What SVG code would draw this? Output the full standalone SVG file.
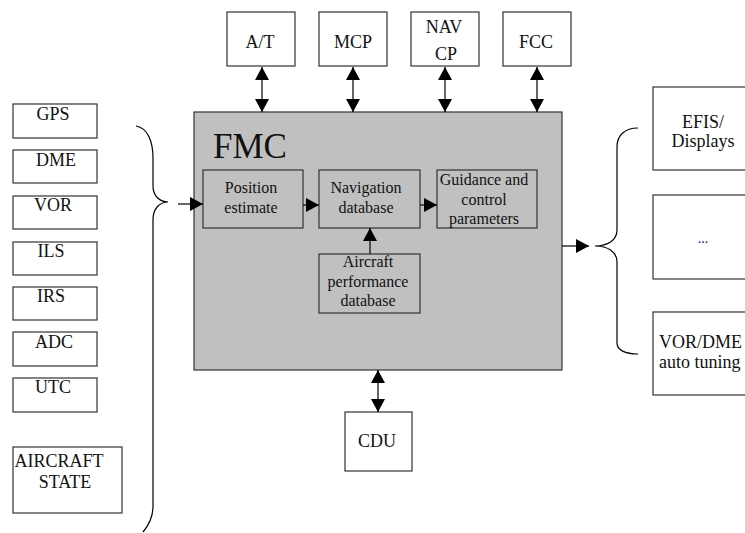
<svg xmlns="http://www.w3.org/2000/svg" width="745" height="533" viewBox="0 0 745 533">
<defs>
<marker id="arr" markerUnits="userSpaceOnUse" markerWidth="13" markerHeight="14" refX="13" refY="7" orient="auto-start-reverse" viewBox="0 0 13 14">
<path d="M0,0 L13,7 L0,14 z" fill="#000"/>
</marker>
<style>
.box{fill:#fff;stroke:#333;stroke-width:1.2}
.inner{fill:#c0c0c0;stroke:#333;stroke-width:1.2}
.fmc{fill:#c0c0c0;stroke:#333;stroke-width:1.2}
text{font-family:"Liberation Serif","Times New Roman",serif;fill:#111}
.t{font-family:"Liberation Serif","Times New Roman",serif;font-size:18px;text-anchor:middle}
.s{font-family:"Liberation Serif","Times New Roman",serif;font-size:16px;text-anchor:middle}
.c{stroke:#000;stroke-width:1.2;fill:none}
.a{marker-end:url(#arr)}
.d{marker-start:url(#arr);marker-end:url(#arr)}
</style>
</defs>
<g id="gps"><rect class="box" x="13" y="104" width="84" height="34"/><text class="t" x="53" y="120">GPS</text></g>
<g id="dme"><rect class="box" x="13" y="150" width="84" height="33"/><text class="t" x="56" y="166">DME</text></g>
<g id="vor"><rect class="box" x="13" y="196" width="84" height="33"/><text class="t" x="53" y="211">VOR</text></g>
<g id="ils"><rect class="box" x="13" y="242" width="84" height="33"/><text class="t" x="51" y="257">ILS</text></g>
<g id="irs"><rect class="box" x="13" y="287" width="84" height="33"/><text class="t" x="51" y="302">IRS</text></g>
<g id="adc"><rect class="box" x="13" y="332" width="84" height="34"/><text class="t" x="54" y="348">ADC</text></g>
<g id="utc"><rect class="box" x="13" y="378" width="84" height="34"/><text class="t" x="53" y="393">UTC</text></g>
<g id="aircraft-state"><rect class="box" x="13" y="447" width="109" height="66"/><text class="t" x="59" y="467">AIRCRAFT</text><text class="t" x="65" y="488">STATE</text></g>
<g id="at"><rect class="box" x="227" y="12" width="68" height="54"/><text class="t" x="260" y="48">A/T</text></g>
<g id="mcp"><rect class="box" x="319" y="12" width="68" height="54"/><text class="t" x="353" y="48">MCP</text></g>
<g id="navcp"><rect class="box" x="411" y="12" width="68" height="54"/><text class="t" x="444" y="33">NAV</text><text class="t" x="446" y="60">CP</text></g>
<g id="fcc"><rect class="box" x="503" y="12" width="68" height="54"/><text class="t" x="536" y="48">FCC</text></g>
<g id="fmc"><rect class="fmc" x="194" y="112" width="368" height="258"/><text x="213" y="158" style="font-size:35px">FMC</text></g>
<g id="position"><rect class="inner" x="203" y="170" width="100" height="58"/><text class="s" x="251" y="193">Position</text><text class="s" x="251" y="213">estimate</text></g>
<g id="navdb"><rect class="inner" x="319" y="170" width="101" height="58"/><text class="s" x="366" y="193">Navigation</text><text class="s" x="366" y="213">database</text></g>
<g id="guidance"><rect class="inner" x="437" y="170" width="100" height="58"/><text class="s" x="484" y="185">Guidance and</text><text class="s" x="484" y="205">control</text><text class="s" x="484" y="224">parameters</text></g>
<g id="perfdb"><rect class="inner" x="319" y="254" width="101" height="59"/><text class="s" x="368" y="267">Aircraft</text><text class="s" x="368" y="287">performance</text><text class="s" x="368" y="306">database</text></g>
<g id="cdu"><rect class="box" x="345" y="412" width="67" height="59"/><text class="t" x="377" y="447">CDU</text></g>
<g id="efis"><rect class="box" x="653" y="87" width="100" height="83"/><text class="t" x="703" y="128">EFIS/</text><text class="t" x="703" y="147">Displays</text></g>
<g id="more"><rect class="box" x="653" y="195" width="100" height="84"/><text x="703" y="243" style="font-size:14px;text-anchor:middle;fill:#0000c0">...</text></g>
<g id="vordme"><rect class="box" x="653" y="312" width="100" height="83"/><text x="659" y="348" style="font-size:18px">VOR/DME</text><text x="659" y="368" style="font-size:18px">auto tuning</text></g>
<g id="connectors">
<path class="c" d="M136,126 C148,128 153,142 153,158 L153,186 C153,196 160,202 168,202 C160,202 153,208 153,220 L153,506 C153,518 149,525 143,532"/>
<path class="c" d="M638,128 C625,128 617,135 617,147 L617,230 C617,240 608,246 595,246 C608,246 617,252 617,262 L617,343 C617,350 625,354 638,354"/>
<line class="c a" x1="178" y1="204" x2="203" y2="204"/>
<line class="c a" x1="303" y1="205" x2="319" y2="205"/>
<line class="c a" x1="420" y1="205" x2="437" y2="205"/>
<line class="c a" x1="370" y1="254" x2="370" y2="228"/>
<line class="c a" x1="562" y1="246" x2="589" y2="246"/>
<line class="c d" x1="262" y1="67" x2="262" y2="112"/>
<line class="c d" x1="353" y1="67" x2="353" y2="112"/>
<line class="c d" x1="445" y1="67" x2="445" y2="112"/>
<line class="c d" x1="537" y1="67" x2="537" y2="112"/>
<line class="c d" x1="378" y1="370" x2="378" y2="412"/>
</g>
</svg>
